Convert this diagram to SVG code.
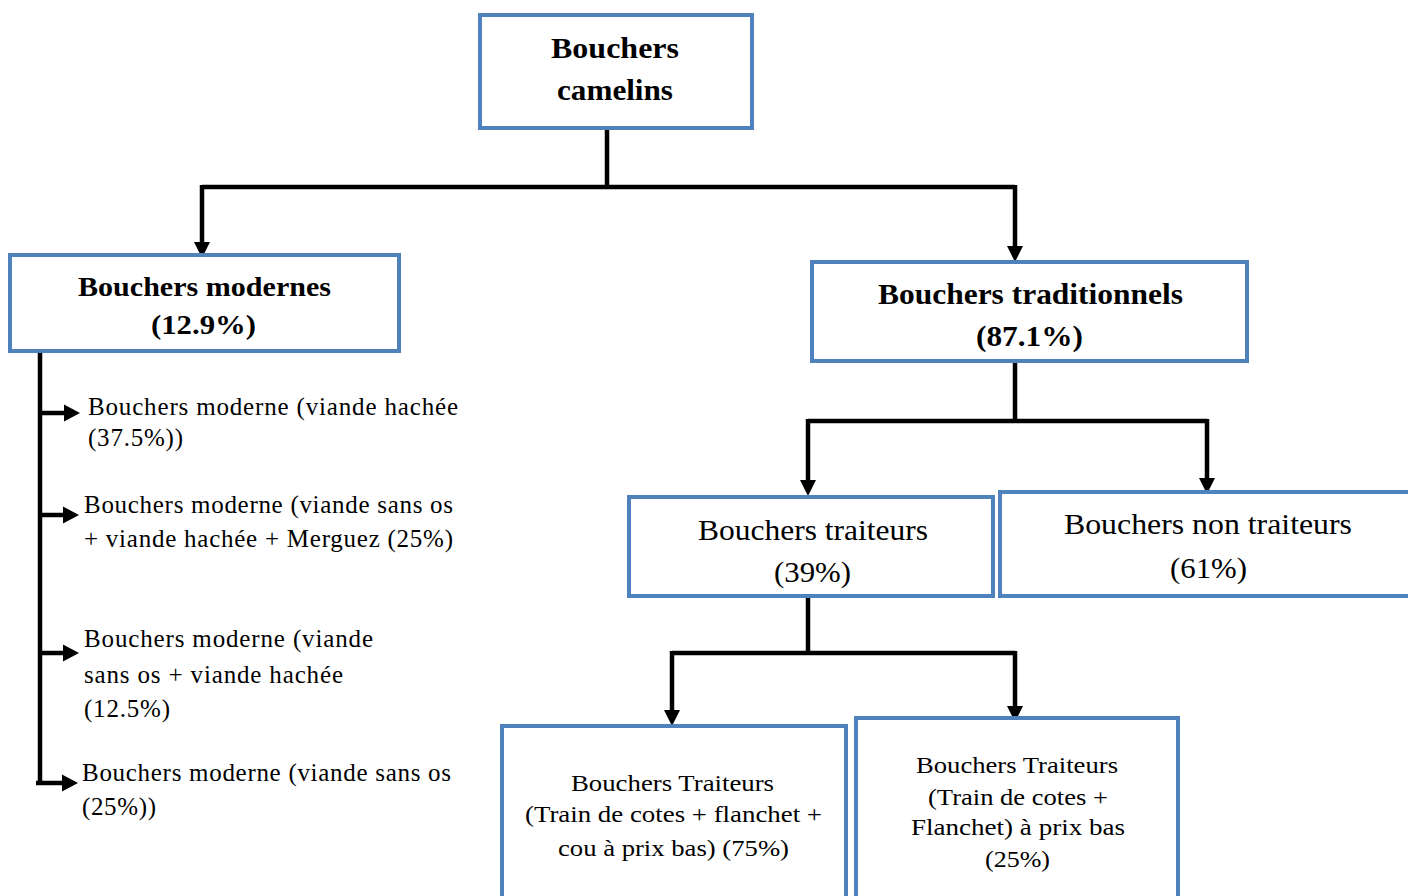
<svg xmlns="http://www.w3.org/2000/svg" width="1408" height="896" viewBox="0 0 1408 896">
  <style>
    .box { fill: #ffffff; stroke: #4F81BD; stroke-width: 4; }
    .wire { fill: none; stroke: #000000; stroke-width: 4.5; stroke-linejoin: miter; }
    .head { fill: #000000; }
    .hb { font-family: "Liberation Serif", "Times New Roman", serif; font-weight: bold; font-size: 30px; fill: #000; }
    .hm { font-family: "Liberation Serif", "Times New Roman", serif; font-weight: bold; font-size: 27px; fill: #000; }
    .mid { font-family: "Liberation Serif", "Times New Roman", serif; font-size: 30px; fill: #000; }
    .sm { font-family: "Liberation Serif", "Times New Roman", serif; font-size: 24px; fill: #000; }
    .lst { font-family: "Liberation Serif", "Times New Roman", serif; font-size: 25px; fill: #000; }
  </style>
  <defs>
    <!-- arrowheads: tip at origin -->
    <polygon id="head-down" class="head" points="-8,-16 8,-16 0,0"/>
    <polygon id="head-right" class="head" points="-16,-8.5 -16,8.5 0,0"/>
  </defs>
  <rect width="1408" height="896" fill="#ffffff"/>

  <!-- connectors -->
  <g id="connectors">
    <path class="wire" d="M607,130 V187"/>
    <path class="wire" d="M202,187 H1015"/>
    <path class="wire" d="M202,185 V244"/>
    <use href="#head-down" x="202" y="258"/>
    <path class="wire" d="M1015,185 V248"/>
    <use href="#head-down" x="1015" y="262"/>

    <path class="wire" d="M40,352 V783"/>
    <path class="wire" d="M38,413 H66"/>
    <use href="#head-right" x="80" y="413"/>
    <path class="wire" d="M38,515 H65"/>
    <use href="#head-right" x="79" y="515"/>
    <path class="wire" d="M38,653 H65"/>
    <use href="#head-right" x="79" y="653"/>
    <path class="wire" d="M36,783 H64"/>
    <use href="#head-right" x="78" y="783"/>

    <path class="wire" d="M1015,362 V421"/>
    <path class="wire" d="M808,421 H1207"/>
    <path class="wire" d="M808,419 V482"/>
    <use href="#head-down" x="808" y="496"/>
    <path class="wire" d="M1207,419 V480"/>
    <use href="#head-down" x="1207" y="494"/>

    <path class="wire" d="M808,597 V653"/>
    <path class="wire" d="M672,653 H1015"/>
    <path class="wire" d="M672,651 V712"/>
    <use href="#head-down" x="672" y="726"/>
    <path class="wire" d="M1015,651 V708"/>
    <use href="#head-down" x="1015" y="722"/>
  </g>

  <g id="root">
    <rect class="box" x="480" y="15" width="272" height="113"/>
    <text class="hb" x="551" y="58" textLength="128" lengthAdjust="spacingAndGlyphs">Bouchers</text>
    <text class="hb" x="557" y="100" textLength="116" lengthAdjust="spacingAndGlyphs">camelins</text>
  </g>

  <g id="modernes">
    <rect class="box" x="10" y="255" width="389" height="96"/>
    <text class="hm" x="78" y="296" textLength="253" lengthAdjust="spacingAndGlyphs">Bouchers modernes</text>
    <text class="hm" x="151" y="334" textLength="105" lengthAdjust="spacingAndGlyphs">(12.9%)</text>
  </g>

  <g id="traditionnels">
    <rect class="box" x="812" y="262" width="435" height="99"/>
    <text class="hb" x="878" y="304" textLength="305" lengthAdjust="spacingAndGlyphs">Bouchers traditionnels</text>
    <text class="hb" x="976" y="346" textLength="107" lengthAdjust="spacingAndGlyphs">(87.1%)</text>
  </g>

  <g id="moderne-1">
    <text class="lst" x="88" y="415" textLength="370" lengthAdjust="spacing">Bouchers moderne (viande hachée</text>
    <text class="lst" x="88" y="446" textLength="95" lengthAdjust="spacing">(37.5%))</text>
  </g>
  <g id="moderne-2">
    <text class="lst" x="84" y="513" textLength="369" lengthAdjust="spacing">Bouchers moderne (viande sans os</text>
    <text class="lst" x="84" y="547" textLength="369" lengthAdjust="spacing">+ viande hachée + Merguez  (25%)</text>
  </g>
  <g id="moderne-3">
    <text class="lst" x="84" y="647" textLength="289" lengthAdjust="spacing">Bouchers moderne (viande</text>
    <text class="lst" x="84" y="683" textLength="259" lengthAdjust="spacing">sans os  + viande hachée</text>
    <text class="lst" x="84" y="717" textLength="86" lengthAdjust="spacing">(12.5%)</text>
  </g>
  <g id="moderne-4">
    <text class="lst" x="82" y="781" textLength="369" lengthAdjust="spacing">Bouchers moderne (viande sans os</text>
    <text class="lst" x="82" y="815" textLength="74" lengthAdjust="spacing">(25%))</text>
  </g>

  <g id="traiteurs">
    <rect class="box" x="629" y="497" width="364" height="99"/>
    <text class="mid" x="698" y="540" textLength="230" lengthAdjust="spacingAndGlyphs">Bouchers traiteurs</text>
    <text class="mid" x="774" y="582" textLength="77" lengthAdjust="spacingAndGlyphs">(39%)</text>
  </g>

  <g id="non-traiteurs">
    <rect class="box" x="1000" y="492" width="412" height="104"/>
    <text class="mid" x="1064" y="534" textLength="288" lengthAdjust="spacingAndGlyphs">Bouchers non traiteurs</text>
    <text class="mid" x="1170" y="578" textLength="77" lengthAdjust="spacingAndGlyphs">(61%)</text>
  </g>

  <g id="traiteurs-75">
    <rect class="box" x="502" y="726" width="344" height="180"/>
    <text class="sm" x="571" y="791" textLength="203" lengthAdjust="spacingAndGlyphs">Bouchers Traiteurs</text>
    <text class="sm" x="525" y="822" textLength="297" lengthAdjust="spacingAndGlyphs">(Train de cotes + flanchet +</text>
    <text class="sm" x="558" y="856" textLength="231" lengthAdjust="spacingAndGlyphs">cou à prix bas) (75%)</text>
  </g>

  <g id="traiteurs-25">
    <rect class="box" x="856" y="718" width="322" height="190"/>
    <text class="sm" x="916" y="773" textLength="202" lengthAdjust="spacingAndGlyphs">Bouchers Traiteurs</text>
    <text class="sm" x="928" y="805" textLength="180" lengthAdjust="spacingAndGlyphs">(Train de cotes +</text>
    <text class="sm" x="911" y="835" textLength="214" lengthAdjust="spacingAndGlyphs">Flanchet) à prix bas</text>
    <text class="sm" x="985" y="867" textLength="65" lengthAdjust="spacingAndGlyphs">(25%)</text>
  </g>
</svg>
